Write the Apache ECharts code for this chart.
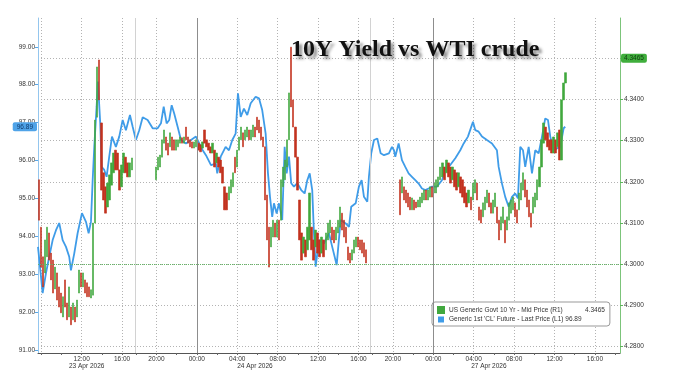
<!DOCTYPE html>
<html><head><meta charset="utf-8">
<script src="https://cdn.jsdelivr.net/npm/echarts@6/dist/echarts.min.js"></script>
<style>html,body{margin:0;padding:0;background:#fff}#c{width:674px;height:388px}</style>
</head><body><div id="c"></div>
<script>
// X unit: "chart hours" from 23 Apr 00:00, with the 17:00-18:00 breaks and the weekend compressed to 0.4 h
const gridHourValues = [8, 12, 16, 19.4, 23.4, 27.4, 31.4, 35.4, 39.4, 42.8, 46.8, 50.8, 54.8, 58.8, 62.8];
const hourLabelValues = [12, 16, 19.4, 23.4, 27.4, 31.4, 35.4, 39.4, 42.8, 46.8, 50.8, 54.8, 58.8, 62.8];
const hourLabels = ['12:00','16:00','20:00','00:00','04:00','08:00','12:00','16:00','20:00','00:00','04:00','08:00','12:00','16:00'];
const twoHourTicks = [8,10,12,14,16,17.4,19.4,21.4,23.4,25.4,27.4,29.4,31.4,33.4,35.4,37.4,39.4,40.8,42.8,44.8,46.8,48.8,50.8,52.8,54.8,56.8,58.8,60.8,62.8,64.8];
const dateLabelValues = [12.5, 29.15, 52.3];
const dateLabels = ['23 Apr 2026', '24 Apr 2026', '27 Apr 2026'];
const dayBreaks = [23.4, 46.8];
const sessionBreaks = [17.3, 40.6];
const leftTicks = [91, 92, 93, 94, 95, 96, 97, 98, 99];
const rightTicks = [4.28, 4.29, 4.30, 4.31, 4.32, 4.33, 4.34, 4.35];
const yieldPrevClose = 4.3027;

const yieldName = 'US Generic Govt 10 Yr - Mid Price (R1)';
const crudeName = "Generic 1st 'CL' Future - Last Price (L1)";

// 10Y yield, 12-minute bars [open, close], three trading sessions
const barStep = 0.2;
const yieldStartA = 7.75;
const yieldBarsA = [
[4.3205,4.3107],[4.3090,4.2993],[4.3018,4.2945],[4.2979,4.3059],[4.3018,4.3090],
[4.3076,4.3010],[4.3027,4.2962],[4.3010,4.2930],[4.2940,4.2993],[4.2979,4.2913],
[4.2945,4.2896],[4.2930,4.2882],[4.2872,4.2921],[4.2962,4.2896],[4.2906,4.2865],
[4.2872,4.2945],[4.2896,4.2853],[4.2865,4.2906],[4.2896,4.2860],[4.2872,4.2913],
[4.2930,4.2986],[4.2979,4.2945],[4.2945,4.2979],[4.2962,4.2930],[4.2955,4.2921],
[4.2945,4.2921],[4.2918,4.2938],[4.2925,4.3100],[4.3100,4.3350],[4.3357,4.3479],
[4.3496,4.3399],[4.3343,4.3180],[4.3222,4.3156],[4.3188,4.3124],[4.3139,4.3197],
[4.3156,4.3217],[4.3192,4.3246],[4.3222,4.3270],[4.3277,4.3229],[4.3270,4.3229],
[4.3229,4.3180],[4.3188,4.3241],[4.3222,4.3270],[4.3260,4.3222],[4.3246,4.3212],
[4.3212,4.3246],[4.3229,4.3258]
];
const yieldStartB = 19.35;
const yieldBarsB = [
[4.3205,4.3236],[4.3229,4.3260],[4.3236,4.3265],[4.3260,4.3302],[4.3294,4.3326],
[4.3309,4.3277],[4.3294,4.3265],[4.3285,4.3319],[4.3309,4.3277],[4.3302,4.3277],
[4.3277,4.3302],[4.3285,4.3302],[4.3294,4.3309],[4.3307,4.3294],[4.3294,4.3309],
[4.3333,4.3302],[4.3309,4.3294],[4.3302,4.3285],[4.3297,4.3282],[4.3282,4.3297],
[4.3285,4.3302],[4.3294,4.3277],[4.3290,4.3273],[4.3282,4.3297],[4.3326,4.3294],
[4.3302,4.3285],[4.3294,4.3277],[4.3285,4.3270],[4.3270,4.3294],[4.3277,4.3236],
[4.3246,4.3270],[4.3260,4.3236],[4.3253,4.3222],[4.3236,4.3197],[4.3188,4.3132],
[4.3173,4.3132],[4.3156,4.3188],[4.3173,4.3205],[4.3188,4.3222],[4.3260,4.3222],
[4.3236,4.3277],[4.3277,4.3309],[4.3302,4.3333],[4.3319,4.3285],[4.3302,4.3326],
[4.3309,4.3333],[4.3326,4.3302],[4.3302,4.3326],[4.3309,4.3338],[4.3333,4.3309],
[4.3357,4.3326],[4.3350,4.3319],[4.3333,4.3302],[4.3309,4.3285],[4.3285,4.3156],
[4.3168,4.3059],[4.3090,4.2993],[4.3042,4.3090],[4.3066,4.3107],[4.3100,4.3066],
[4.3066,4.3107],[4.3107,4.3059],[4.3107,4.3205],[4.3188,4.3236],[4.3205,4.3253],
[4.3236,4.3302],[4.3302,4.3416],[4.3527,4.3382],[4.3399,4.3333],[4.3333,4.3260],
[4.3260,4.3180],[4.3156,4.3059],[4.3076,4.3010],[4.3027,4.3066],[4.3059,4.3018],
[4.3035,4.3090],[4.3059,4.3173],[4.3090,4.3035],[4.3059,4.3010],[4.3042,4.3083],
[4.3076,4.3027],[4.3059,4.3018],[4.3027,4.3066],[4.3059,4.3018],[4.3035,4.3076],
[4.3059,4.3100],[4.3076,4.3107],[4.3090,4.3059],[4.3083,4.3052],[4.3059,4.3090],
[4.3076,4.3107],[4.3090,4.3139],[4.3124,4.3083],[4.3107,4.3066],[4.3090,4.3052],
[4.3042,4.3010],[4.3027,4.3003],[4.3010,4.3035],[4.3027,4.3059],[4.3042,4.3066],
[4.3066,4.3042],[4.3059,4.3035],[4.3059,4.3027],[4.3052,4.3018],[4.3035,4.3003]
];
const yieldStartC = 43.5;
const yieldBarsC = [
[4.3205,4.3120],[4.3173,4.3212],[4.3188,4.3156],[4.3180,4.3149],[4.3173,4.3139],
[4.3163,4.3132],[4.3132,4.3161],[4.3156,4.3132],[4.3151,4.3137],[4.3139,4.3156],
[4.3139,4.3163],[4.3149,4.3173],[4.3156,4.3180],[4.3180,4.3156],[4.3156,4.3180],
[4.3163,4.3188],[4.3188,4.3163],[4.3173,4.3197],[4.3173,4.3205],[4.3188,4.3212],
[4.3205,4.3236],[4.3212,4.3246],[4.3236,4.3205],[4.3222,4.3253],[4.3246,4.3212],
[4.3236,4.3197],[4.3205,4.3236],[4.3229,4.3188],[4.3222,4.3180],[4.3188,4.3222],
[4.3212,4.3173],[4.3205,4.3163],[4.3188,4.3149],[4.3173,4.3139],[4.3149,4.3180],
[4.3163,4.3132],[4.3156,4.3197],[4.3173,4.3205],[4.3197,4.3156],[4.3139,4.3107],
[4.3132,4.3100],[4.3115,4.3149],[4.3132,4.3163],[4.3149,4.3180],[4.3173,4.3139],
[4.3149,4.3124],[4.3124,4.3156],[4.3139,4.3173],[4.3139,4.3100],[4.3107,4.3059],
[4.3083,4.3115],[4.3100,4.3139],[4.3107,4.3052],[4.3083,4.3115],[4.3107,4.3149],
[4.3124,4.3156],[4.3132,4.3163],[4.3149,4.3115],[4.3132,4.3100],[4.3132,4.3173],
[4.3156,4.3197],[4.3180,4.3222],[4.3205,4.3163],[4.3180,4.3139],[4.3156,4.3115],
[4.3124,4.3090],[4.3124,4.3163],[4.3139,4.3173],[4.3156,4.3205],[4.3188,4.3236],
[4.3236,4.3302],[4.3294,4.3343],[4.3333,4.3302],[4.3319,4.3285],[4.3302,4.3277],
[4.3302,4.3270],[4.3270,4.3309],[4.3302,4.3270],[4.3285,4.3319],[4.3326,4.3253],
[4.3253,4.3399],[4.3399,4.3440],[4.3440,4.3465]
];

// WTI crude front month (left axis)
const crudeTimes = [7.68,8.14,8.47,8.79,9.13,9.46,9.78,10.12,10.45,10.77,
10.94,11.27,11.60,12.03,12.43,12.69,12.92,13.09,13.25,13.48,
13.61,13.84,13.98,14.24,14.47,14.73,15.00,15.39,15.72,16.06,
16.38,16.78,17.05,17.37,17.70,18.04,18.53,19.03,19.52,19.85,
20.12,20.41,20.67,20.91,21.16,21.50,21.83,22.32,22.82,23.31,
23.64,23.98,24.30,24.80,25.29,25.42,25.76,26.25,26.58,26.91,
27.24,27.47,27.74,28.06,28.39,28.73,29.22,29.55,29.87,30.21,
30.44,30.64,30.86,31.03,31.30,31.53,31.85,32.09,32.29,32.52,
32.74,33.01,33.34,33.73,34.07,34.33,34.57,34.82,34.99,35.16,
35.49,35.98,36.48,36.80,37.24,37.63,38.13,38.46,38.68,39.12,
39.44,39.71,39.94,40.27,40.43,40.66,40.93,41.26,41.59,41.92,
42.41,42.71,42.91,43.04,43.37,43.70,44.03,44.36,44.69,45.02,
45.35,45.68,46.01,46.34,46.67,47.16,47.66,47.99,48.48,48.98,
49.47,49.81,50.23,50.73,50.96,51.29,51.62,52.11,52.61,53.10,
53.27,53.60,53.92,54.26,54.59,54.91,55.18,55.41,55.68,55.90,
56.24,56.57,56.89,57.23,57.56,57.88,58.15,58.38,58.71,59.04,
59.37,59.70,59.86];
const crudeValues = [93.72,92.50,93.03,93.46,93.90,94.16,94.35,93.90,93.72,93.46,
93.10,93.55,94.08,94.61,94.38,94.08,94.38,95.48,96.36,97.42,
98.08,96.99,95.83,95.75,95.57,96.10,96.63,96.36,96.63,97.07,
96.80,97.20,96.89,96.54,96.80,97.14,97.07,96.85,96.85,96.98,
97.42,96.98,97.07,97.46,97.24,96.89,96.54,96.45,96.54,96.63,
96.45,96.27,96.14,95.88,95.92,95.66,96.10,96.36,96.27,96.54,
96.71,97.77,97.15,97.37,97.20,97.51,97.68,97.64,97.33,96.71,
95.66,95.04,94.51,94.87,94.60,94.87,94.43,96.36,95.66,96.10,
95.40,95.31,95.40,95.22,95.13,95.48,95.66,95.22,94.08,93.20,
93.90,93.81,94.08,93.72,93.24,94.43,94.34,94.25,94.78,94.87,
95.31,95.48,95.04,94.91,95.57,96.19,96.54,96.58,96.19,96.14,
96.19,96.36,96.27,96.10,96.45,96.01,95.83,95.66,95.57,95.48,
95.39,95.26,95.22,95.26,95.31,95.31,95.48,95.75,95.88,96.06,
96.27,96.45,96.63,97.02,96.80,96.76,96.63,96.54,96.45,96.27,
95.83,95.39,95.04,94.78,95.04,95.13,95.00,96.36,96.27,95.83,
96.36,95.66,96.27,96.19,96.63,97.11,97.07,96.63,96.27,96.32,
96.36,96.85,96.89];

const GREEN = '#41a83e', RED = '#c2321f', BLUE = '#3f9ce8';
const FONT = 'Liberation Sans';

const yieldData = [];
[[yieldStartA, yieldBarsA], [yieldStartB, yieldBarsB], [yieldStartC, yieldBarsC]].forEach(([start, bars]) => {
  bars.forEach((b, i) => {
    const t = +(start + i * barStep).toFixed(3);
    yieldData.push([t, b[0], b[1], Math.min(b[0], b[1]), Math.max(b[0], b[1])]);
  });
});
const crudeData = crudeTimes.map((t, i) => [t, crudeValues[i]]);
const yieldLast = yieldBarsC[yieldBarsC.length - 1][1];
const crudeLast = crudeValues[crudeValues.length - 1];

const lookup = (vals, labels) => v => {
  const i = vals.findIndex(h => Math.abs(h - v) < 1e-6);
  return i >= 0 ? labels[i] : '';
};

const axisText = {fontFamily: FONT, fontSize: 6.5, color: '#333'};
const X_MIN = 7.68, X_MAX = 65.28;
const CLEAR = 'rgba(0,0,0,0)';

const chart = echarts.init(document.getElementById('c'));
chart.setOption({
  animation: false,
  backgroundColor: '#fff',
  title: {
    text: '10Y Yield vs WTI crude', left: 286, top: 33,
    textStyle: {fontFamily: 'Liberation Serif', fontWeight: 'bold', fontSize: 24, color: '#111',
      textShadowColor: 'rgba(0,0,0,0.45)', textShadowBlur: 3, textShadowOffsetX: 3, textShadowOffsetY: 3}
  },
  grid: {left: 38, right: 54, top: 18, bottom: 35, containLabel: false, outerBoundsMode: 'none'},
  legend: {
    orient: 'vertical', left: 432, top: 302, padding: [4, 5, 3, 5], itemGap: 2,
    itemWidth: 6, itemHeight: 6, selectedMode: false,
    backgroundColor: '#fff', borderColor: '#999', borderWidth: 1, borderRadius: 3,
    data: [
      {name: yieldName, icon: 'rect', itemStyle: {color: GREEN}},
      {name: crudeName, icon: 'rect', itemStyle: {color: BLUE}}
    ],
    formatter: name => name === yieldName
      ? '{a|' + name + '}{v|' + yieldLast.toFixed(4) + '}'
      : '{b|' + name + ' }{v|' + crudeLast.toFixed(2) + '}',
    textStyle: Object.assign({}, axisText, {
      rich: {a: Object.assign({width: 136}, axisText), b: Object.assign({}, axisText), v: Object.assign({}, axisText)}
    })
  },
  xAxis: [{
    type: 'value', min: X_MIN, max: X_MAX, position: 'bottom',
    axisLine: {show: true, lineStyle: {color: '#555'}},
    axisTick: {show: true, customValues: gridHourValues, length: 2, lineStyle: {color: '#555'}},
    axisLabel: {customValues: hourLabelValues, formatter: lookup(hourLabelValues, hourLabels), margin: 3, ...axisText},
    splitLine: {show: true, lineStyle: {type: [1, 2], color: '#b3b3b3'}}
  }, {
    type: 'value', min: X_MIN, max: X_MAX, position: 'bottom', offset: 0,
    axisLine: {show: false},
    axisTick: {show: true, customValues: twoHourTicks, length: 2, lineStyle: {color: '#666'}},
    axisLabel: {customValues: dateLabelValues, formatter: lookup(dateLabelValues, dateLabels), margin: 10, ...axisText},
    splitLine: {show: false}
  }],
  yAxis: [{
    type: 'value', min: 90.92, max: 99.76, position: 'left',
    axisLine: {show: true, lineStyle: {color: '#94c6ee'}},
    axisTick: {show: true, customValues: leftTicks, length: 3, lineStyle: {color: '#5aa7e6'}},
    axisLabel: {customValues: leftTicks, formatter: v => v.toFixed(2), margin: 3, ...axisText},
    splitLine: {show: false}
  }, {
    type: 'value', min: 4.27845, max: 4.35978, position: 'right',
    axisLine: {show: true, lineStyle: {color: '#7cc47a'}},
    axisTick: {show: true, customValues: rightTicks, length: 3, lineStyle: {color: '#5db55a'}},
    axisLabel: {customValues: rightTicks, formatter: v => v.toFixed(4), margin: 4, ...axisText},
    splitLine: {show: true, lineStyle: {type: [1, 2], color: '#b3b3b3'}}
  }],
  series: [{
    name: crudeName, type: 'line', xAxisIndex: 0, yAxisIndex: 0, z: 2,
    data: crudeData, showSymbol: false, symbol: 'none',
    lineStyle: {color: BLUE, width: 1.8}, itemStyle: {color: BLUE},
    markLine: {
      silent: true, symbol: 'none', animation: false,
      label: {show: false},
      data: [
        ...dayBreaks.map(v => ({xAxis: v, lineStyle: {color: '#8d8d8d', type: 'solid', width: 1}})),
        ...sessionBreaks.map(v => ({xAxis: v, lineStyle: {color: '#d2d2d2', type: 'solid', width: 1}}))
      ]
    }
  }, {
    name: 'crudeLastMarker', type: 'line', xAxisIndex: 0, yAxisIndex: 0, z: 6,
    data: [], showSymbol: false, symbol: 'none',
    markLine: {
      silent: true, symbol: 'none', animation: false,
      lineStyle: {color: CLEAR, width: 0},
      data: [{yAxis: crudeLast,
        label: {show: true, position: 'start', distance: 1, formatter: () => crudeLast.toFixed(2),
          backgroundColor: '#4fa3e8', padding: [1, 4], borderRadius: 2, fontFamily: FONT, fontSize: 6.5, color: '#123c6e'}}]
    }
  }, {
    name: yieldName, type: 'candlestick', xAxisIndex: 0, yAxisIndex: 1, z: 3,
    data: yieldData, encode: {x: 0, y: [1, 2, 3, 4]}, barWidth: 1.8,
    itemStyle: {color: GREEN, color0: RED, borderColor: GREEN, borderColor0: RED, borderWidth: 0.6},
    markLine: {
      silent: true, symbol: 'none', animation: false,
      label: {show: false},
      data: [
        {yAxis: yieldPrevClose, lineStyle: {color: '#66b866', type: [1, 1], width: 1}}
      ]
    }
  }, {
    name: 'yieldLastMarker', type: 'line', xAxisIndex: 0, yAxisIndex: 1, z: 6,
    data: [], showSymbol: false, symbol: 'none',
    markLine: {
      silent: true, symbol: 'none', animation: false,
      lineStyle: {color: CLEAR, width: 0},
      data: [{yAxis: yieldLast,
        label: {show: true, position: 'end', distance: 1, formatter: () => yieldLast.toFixed(4),
          backgroundColor: '#3fae3c', padding: [1, 3], borderRadius: 2, fontFamily: FONT, fontSize: 6.5, color: '#0d3b0d'}}]
    }
  }]
});
</script>
</body></html>
